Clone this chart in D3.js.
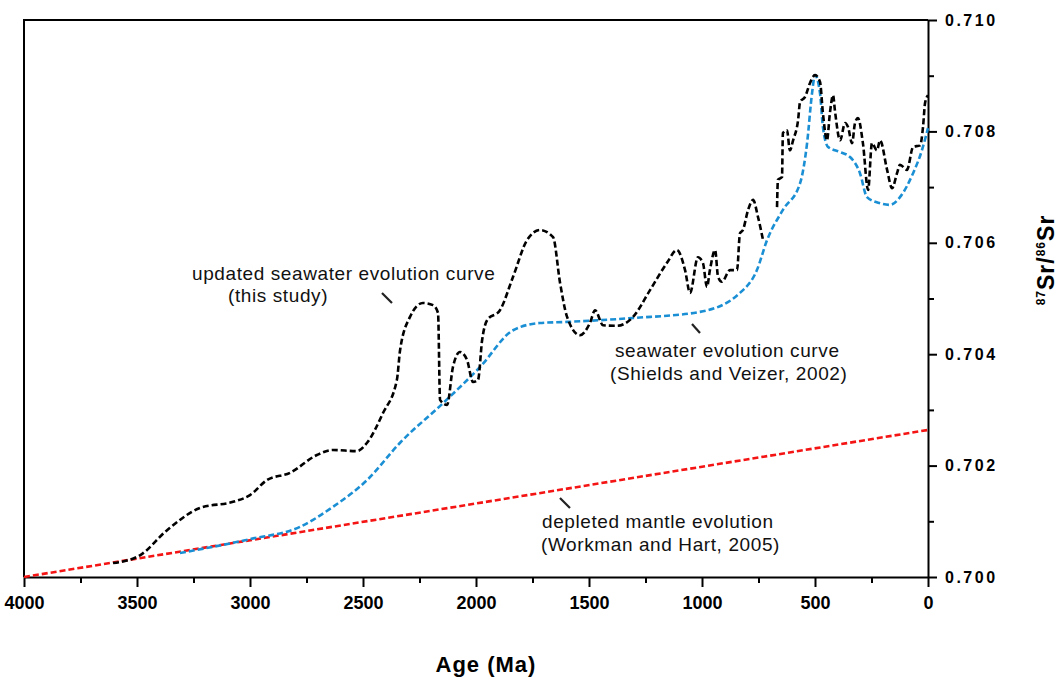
<!DOCTYPE html>
<html>
<head>
<meta charset="utf-8">
<script src="https://cdn.jsdelivr.net/npm/d3@7/dist/d3.min.js"></script>
<style>
    body { margin: 0; background: #fff; }
    svg { display: block; font-family: "Liberation Sans", Arial, sans-serif; }
    .axis text { font-weight: bold; fill: #000; }
    .axis path, .axis line { stroke: #000; stroke-width: 2px; }
    .note { font-size: 19px; letter-spacing: 0.6px; fill: #111; }
</style>
</head>
<body>
<div id="chart"></div>
<script>
// x tick values (Ma) and y tick values (87Sr/86Sr)
var xTicks = [4000, 3500, 3000, 2500, 2000, 1500, 1000, 500, 0];
var xMinor = [3750, 3250, 2750, 2250, 1750, 1250, 750, 250];
var yTicks = [0.700, 0.702, 0.704, 0.706, 0.708, 0.710];
var yMinor = [0.701, 0.703, 0.705, 0.707, 0.709];

// depleted mantle evolution (Workman and Hart, 2005)
var mantle = [[4000, 0.70000], [0, 0.70264]];

// seawater evolution curve (Shields and Veizer, 2002)
var shields = [
    [3310, 0.70043], [3000, 0.70068], [2779, 0.70090], [2633, 0.70126], [2482, 0.70174],
    [2336, 0.70241], [2146, 0.70312], [1982, 0.70377], [1836, 0.70443], [1717, 0.70456],
    [1597, 0.70458], [1305, 0.70465], [1009, 0.70476], [832, 0.70510], [757, 0.70551],
    [712, 0.70605], [642, 0.70659], [566, 0.70707], [535, 0.70779], [513, 0.70869],
    [500, 0.70901], [478, 0.70869], [465, 0.70808], [442, 0.70772], [389, 0.70763],
    [345, 0.70754], [301, 0.70725], [270, 0.70682], [212, 0.70671], [168, 0.70668],
    [124, 0.70682], [66, 0.70725], [27, 0.70766], [0, 0.70806]
];

// updated seawater evolution curve (this study); null marks the gap near 700 Ma
var updated = [
    [3606, 0.70025], [3487, 0.70039], [3367, 0.70084], [3221, 0.70124], [3075, 0.70135],
    [3000, 0.70147], [2925, 0.70174], [2823, 0.70187], [2704, 0.70219], [2633, 0.70228],
    [2527, 0.70226], [2482, 0.70241], [2412, 0.70294], [2350, 0.70354], [2336, 0.70407],
    [2292, 0.70467], [2235, 0.70492], [2190, 0.70488], [2168, 0.70474], [2159, 0.70318],
    [2128, 0.70309], [2102, 0.70377], [2071, 0.70404], [2040, 0.70390], [2013, 0.70350],
    [1991, 0.70354], [1973, 0.70425], [1951, 0.70461], [1894, 0.70479], [1836, 0.70539],
    [1774, 0.70605], [1717, 0.70623], [1659, 0.70610], [1628, 0.70528], [1597, 0.70467],
    [1540, 0.70434], [1496, 0.70456], [1473, 0.70479], [1438, 0.70452], [1376, 0.70451],
    [1305, 0.70467], [1230, 0.70515], [1155, 0.70564], [1111, 0.70587], [1075, 0.70551],
    [1053, 0.70510], [1018, 0.70574], [996, 0.70564], [978, 0.70521], [965, 0.70551],
    [942, 0.70587], [929, 0.70539], [912, 0.70530], [876, 0.70551], [845, 0.70551],
    [832, 0.70617], [819, 0.70623], [796, 0.70659], [774, 0.70677], [752, 0.70646],
    [730, 0.70605], null,
    [668, 0.70664], [664, 0.70713], [646, 0.70718], [642, 0.70797], [624, 0.70802],
    [611, 0.70766], [597, 0.70784], [575, 0.70820], [566, 0.70853], [544, 0.70862],
    [522, 0.70887], [500, 0.70901], [478, 0.70889], [465, 0.70833], [447, 0.70784],
    [434, 0.70833], [420, 0.70865], [412, 0.70838], [389, 0.70784], [367, 0.70815],
    [354, 0.70808], [336, 0.70779], [323, 0.70815], [310, 0.70824], [288, 0.70779],
    [265, 0.70695], [248, 0.70779], [226, 0.70766], [212, 0.70784], [181, 0.70731],
    [159, 0.70698], [137, 0.70725], [124, 0.70740], [93, 0.70731], [66, 0.70772],
    [35, 0.70775], [22, 0.70808], [13, 0.70851], [0, 0.70865]
];

var width = 1063;
var height = 682;
var plotLeft = 24, plotRight = 928, plotTop = 20, plotBottom = 577;

var svg = d3.select('#chart')
    .append('svg')
    .attr('width', width)
    .attr('height', height);

var x = d3.scaleLinear().domain([4000, 0]).range([plotLeft, plotRight]);
var y = d3.scaleLinear().domain([0.700, 0.710]).range([plotBottom, plotTop]);

// frame (top and left sides)
svg.append('path')
    .attr('d', 'M' + plotLeft + ',' + plotBottom + 'V' + plotTop + 'H' + plotRight)
    .attr('fill', 'none')
    .attr('stroke', '#000')
    .attr('stroke-width', 2);

//Axes
var xAxis = svg.append('g')
    .attr('class', 'axis')
    .attr('transform', 'translate(0,' + plotBottom + ')')
    .call(d3.axisBottom(x).tickValues(xTicks).tickFormat(d3.format('d')).tickSize(10).tickSizeOuter(0));
xAxis.selectAll('text').attr('font-size', 18).attr('dy', '1.05em');

svg.append('g')
    .attr('class', 'axis')
    .attr('transform', 'translate(0,' + plotBottom + ')')
    .call(d3.axisBottom(x).tickValues(xMinor).tickFormat('').tickSize(6).tickSizeOuter(0))
    .select('.domain').remove();

var yAxis = svg.append('g')
    .attr('class', 'axis')
    .attr('transform', 'translate(' + plotRight + ',0)')
    .call(d3.axisRight(y).tickValues(yTicks).tickFormat(d3.format('.3f')).tickSize(9).tickSizeOuter(0));
yAxis.selectAll('text')
    .attr('font-size', 16)
    .attr('x', 17)
    .style('letter-spacing', '2.5px');

svg.append('g')
    .attr('class', 'axis')
    .attr('transform', 'translate(' + plotRight + ',0)')
    .call(d3.axisRight(y).tickValues(yMinor).tickFormat('').tickSize(6).tickSizeOuter(0))
    .select('.domain').remove();

// axis titles
svg.append('text')
    .attr('x', 486)
    .attr('y', 672)
    .attr('text-anchor', 'middle')
    .attr('font-size', 22)
    .attr('font-weight', 'bold')
    .style('letter-spacing', '1px')
    .text('Age (Ma)');

var yTitle = svg.append('text')
    .attr('transform', 'translate(1054,260) rotate(-90)')
    .attr('text-anchor', 'middle')
    .attr('font-size', 23)
    .attr('font-weight', 'bold')
    .style('letter-spacing', '1px');
yTitle.append('tspan').attr('font-size', 12).attr('dy', -9).text('87');
yTitle.append('tspan').attr('dy', 9).text('Sr/');
yTitle.append('tspan').attr('font-size', 12).attr('dy', -9).text('86');
yTitle.append('tspan').attr('dy', 9).text('Sr');

// curves
var line = d3.line()
    .defined(function(d) { return d !== null; })
    .x(function(d) { return x(d[0]); })
    .y(function(d) { return y(d[1]); })
    .curve(d3.curveMonotoneX);

var plot = svg.append('g');

plot.append('path')
    .datum(mantle)
    .attr('d', line)
    .attr('fill', 'none')
    .attr('stroke', '#f41414')
    .attr('stroke-width', 2.6)
    .attr('stroke-dasharray', '6,3');

plot.append('path')
    .datum(shields)
    .attr('d', line)
    .attr('fill', 'none')
    .attr('stroke', '#1b8fd4')
    .attr('stroke-width', 2.6)
    .attr('stroke-dasharray', '6,3');

plot.append('path')
    .datum(updated)
    .attr('d', line)
    .attr('fill', 'none')
    .attr('stroke', '#000')
    .attr('stroke-width', 2.6)
    .attr('stroke-dasharray', '6,3');

// annotations
var notes = [
    { x: 192, y: 280, t: 'updated seawater evolution curve' },
    { x: 228, y: 302, t: '(this study)' },
    { x: 615, y: 357, t: 'seawater evolution curve' },
    { x: 610, y: 380, t: '(Shields and Veizer, 2002)' },
    { x: 542, y: 528, t: 'depleted mantle evolution' },
    { x: 541, y: 551, t: '(Workman and Hart, 2005)' }
];
svg.selectAll('.note')
    .data(notes)
    .enter()
    .append('text')
    .attr('class', 'note')
    .attr('x', function(d) { return d.x; })
    .attr('y', function(d) { return d.y; })
    .text(function(d) { return d.t; });

var pointers = [[382, 293, 392, 303], [692, 324, 700, 333], [560, 498, 570, 508]];
svg.selectAll('.pointer')
    .data(pointers)
    .enter()
    .append('line')
    .attr('x1', function(d) { return d[0]; })
    .attr('y1', function(d) { return d[1]; })
    .attr('x2', function(d) { return d[2]; })
    .attr('y2', function(d) { return d[3]; })
    .attr('stroke', '#222')
    .attr('stroke-width', 2.2);
</script>
</body>
</html>
